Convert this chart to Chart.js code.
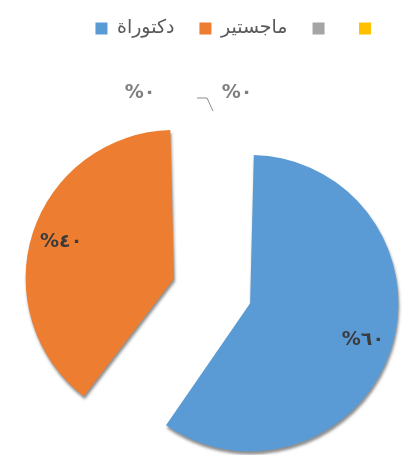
<!DOCTYPE html>
<html>
<head>
<meta charset="utf-8">
<script src="https://cdn.jsdelivr.net/npm/chart.js@4.4.1/dist/chart.umd.min.js"></script>
<style>
html, body { margin: 0; padding: 0; background: #fff; }
#wrap { width: 404px; height: 455px; }
</style>
</head>
<body>
<div id="wrap"><canvas id="myChart"></canvas></div>
<script>
var labels = ["دكتوراة", "ماجستير", "", ""];
var values = [60, 40, 0, 0];
var barColors = ["#5b9bd5", "#ed7d31", "#a5a5a5", "#ffc000"];

var arDigits = "٠١٢٣٤٥٦٧٨٩";
function toAr(n) { return String(n).replace(/[0-9]/g, function (d) { return arDigits[d]; }); }

// chart.js grows an offset arc by offset/4 * (1 - sin(circumference)), same as ArcElement.draw
function drawnRadius(arc) {
    var off = arc.options.offset / 4;
    return arc.outerRadius + off * (1 - Math.sin(Math.min(Math.PI, arc.circumference)));
}

// push the pie down below the legend
var legendSpace = {
    id: "legendSpace",
    beforeInit: function (chart) {
        var fit = chart.legend.fit;
        chart.legend.fit = function () {
            fit.bind(chart.legend)();
            this.height += 96;
        };
    },
    afterLayout: function (chart) {
        chart.legend.left += 10;
        chart.legend.right += 10;
    }
};

var sliceShadow = {
    id: "sliceShadow",
    beforeDatasetsDraw: function (chart) {
        var ctx = chart.ctx;
        ctx.save();
        ctx.shadowColor = "rgba(0,0,0,0.45)";
        ctx.shadowBlur = 3;
        ctx.shadowOffsetX = 1;
        ctx.shadowOffsetY = 3;
    },
    afterDatasetsDraw: function (chart) {
        chart.ctx.restore();
    }
};

// percentage labels, zero slices get theirs above the pie
var pctLabels = {
    id: "pctLabels",
    afterDraw: function (chart) {
        var ctx = chart.ctx;
        var arcs = chart.getDatasetMeta(0).data;
        var total = values.reduce(function (a, b) { return a + b; }, 0);
        ctx.save();
        ctx.font = "bold 19px 'DejaVu Sans'";
        ctx.textAlign = "center";
        ctx.textBaseline = "middle";
        var zeros = [];
        arcs.forEach(function (arc, i) {
            var txt = "%" + toAr(Math.round(values[i] / total * 100));
            if (values[i] === 0) { zeros.push(txt); return; }
            var off = arc.options.offset / 4;
            var mid = (arc.startAngle + arc.endAngle) / 2;
            var d = off + drawnRadius(arc) * 0.8;
            ctx.fillStyle = "#3b3b3b";
            ctx.fillText(txt, arc.x + Math.cos(mid) * d, arc.y + Math.sin(mid) * d);
        });
        if (zeros.length) {
            var a = arcs[0];
            var ly = a.y - 203;
            ctx.fillStyle = "#7f7f7f";
            ctx.fillText(zeros[0], a.x - 88, ly);
            ctx.fillText(zeros[1], a.x + 9, ly);
            ctx.strokeStyle = "#8c8c8c";
            ctx.lineWidth = 1;
            ctx.beginPath();
            ctx.moveTo(a.x - 31, ly + 5);
            ctx.lineTo(a.x - 21, ly + 5);
            ctx.lineTo(a.x - 15, ly + 18);
            ctx.stroke();
        }
        ctx.restore();
    }
};

new Chart("myChart", {
    type: "pie",
    data: {
        labels: labels,
        datasets: [{
            data: values,
            backgroundColor: barColors,
            borderWidth: 0,
            offset: [93, 227, 0, 0],
            clip: false
        }]
    },
    options: {
        responsive: true,
        maintainAspectRatio: false,
        animation: false,
        radius: 125,
        layout: { padding: { left: 52, right: 0, top: -6, bottom: 7 } },
        plugins: {
            legend: {
                display: true,
                position: "top",
                labels: {
                    boxWidth: 12,
                    boxHeight: 12,
                    padding: 25,
                    color: "#595959",
                    font: { family: "'DejaVu Sans'", size: 19 }
                }
            },
            tooltip: { enabled: false }
        }
    },
    plugins: [legendSpace, sliceShadow, pctLabels]
});
</script>
</body>
</html>
